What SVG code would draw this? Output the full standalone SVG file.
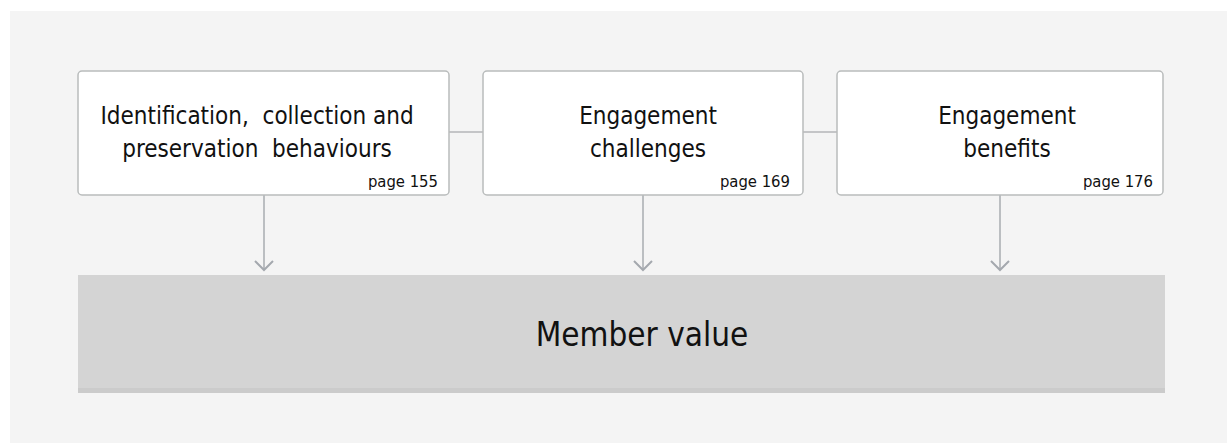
<svg xmlns="http://www.w3.org/2000/svg" width="1227" height="443" viewBox="0 0 1227 443">
  <style>
    .box { fill: #ffffff; stroke: #b9bcbc; stroke-width: 1.5; }
    .title { font-family: "DejaVu Sans Condensed", "DejaVu Sans", sans-serif; font-stretch: condensed; font-size: 24px; fill: #111111; text-anchor: middle; }
    .page { font-family: "DejaVu Sans Condensed", "DejaVu Sans", sans-serif; font-stretch: condensed; font-size: 16.5px; fill: #111111; text-anchor: end; }
    .big { font-family: "DejaVu Sans Condensed", "DejaVu Sans", sans-serif; font-stretch: condensed; font-size: 33px; fill: #111111; text-anchor: middle; }
    .link { stroke: #b4b6b8; stroke-width: 1.5; fill: none; }
    .flow { stroke: #a9acb0; stroke-width: 1.5; fill: none; marker-end: url(#chev); }
  </style>
  <defs>
    <!-- open chevron arrowhead, drawn along +x so orient="auto" points it down the line -->
    <marker id="chev" viewBox="0 0 12 20" refX="10" refY="10" markerWidth="12" markerHeight="20" markerUnits="userSpaceOnUse" orient="auto">
      <path d="M1,1 L10,10 L1,19" fill="none" stroke="#a4a8ae" stroke-width="2"/>
    </marker>
  </defs>

  <!-- canvas -->
  <rect x="10" y="11" width="1217" height="432" fill="#f4f4f4"/>

  <!-- connectors -->
  <g id="connectors">
    <line class="link" x1="449" y1="132" x2="483" y2="132"/>
    <line class="link" x1="803" y1="132" x2="837" y2="132"/>
    <line class="flow" x1="264" y1="195" x2="264" y2="270"/>
    <line class="flow" x1="643" y1="195" x2="643" y2="270"/>
    <line class="flow" x1="1000" y1="195" x2="1000" y2="270"/>
  </g>

  <g id="node-identification">
    <rect class="box" x="78" y="71" width="371" height="124" rx="4"/>
    <text class="title" x="257" y="124" xml:space="preserve">Identification,  collection and</text>
    <text class="title" x="257" y="157" xml:space="preserve">preservation  behaviours</text>
    <text class="page" x="438" y="187">page 155</text>
  </g>

  <g id="node-challenges">
    <rect class="box" x="483" y="71" width="320" height="124" rx="4"/>
    <text class="title" x="648" y="124">Engagement</text>
    <text class="title" x="648" y="157">challenges</text>
    <text class="page" x="790" y="187">page 169</text>
  </g>

  <g id="node-benefits">
    <rect class="box" x="837" y="71" width="326" height="124" rx="4"/>
    <text class="title" x="1007" y="124">Engagement</text>
    <text class="title" x="1007" y="157">benefits</text>
    <text class="page" x="1153" y="187">page 176</text>
  </g>

  <g id="node-member-value">
    <rect x="78" y="278" width="1087" height="115" fill="#cbcbcb"/>
    <rect x="78" y="275" width="1087" height="113" fill="#d4d4d4"/>
    <text class="big" x="642" y="346">Member value</text>
  </g>
</svg>
